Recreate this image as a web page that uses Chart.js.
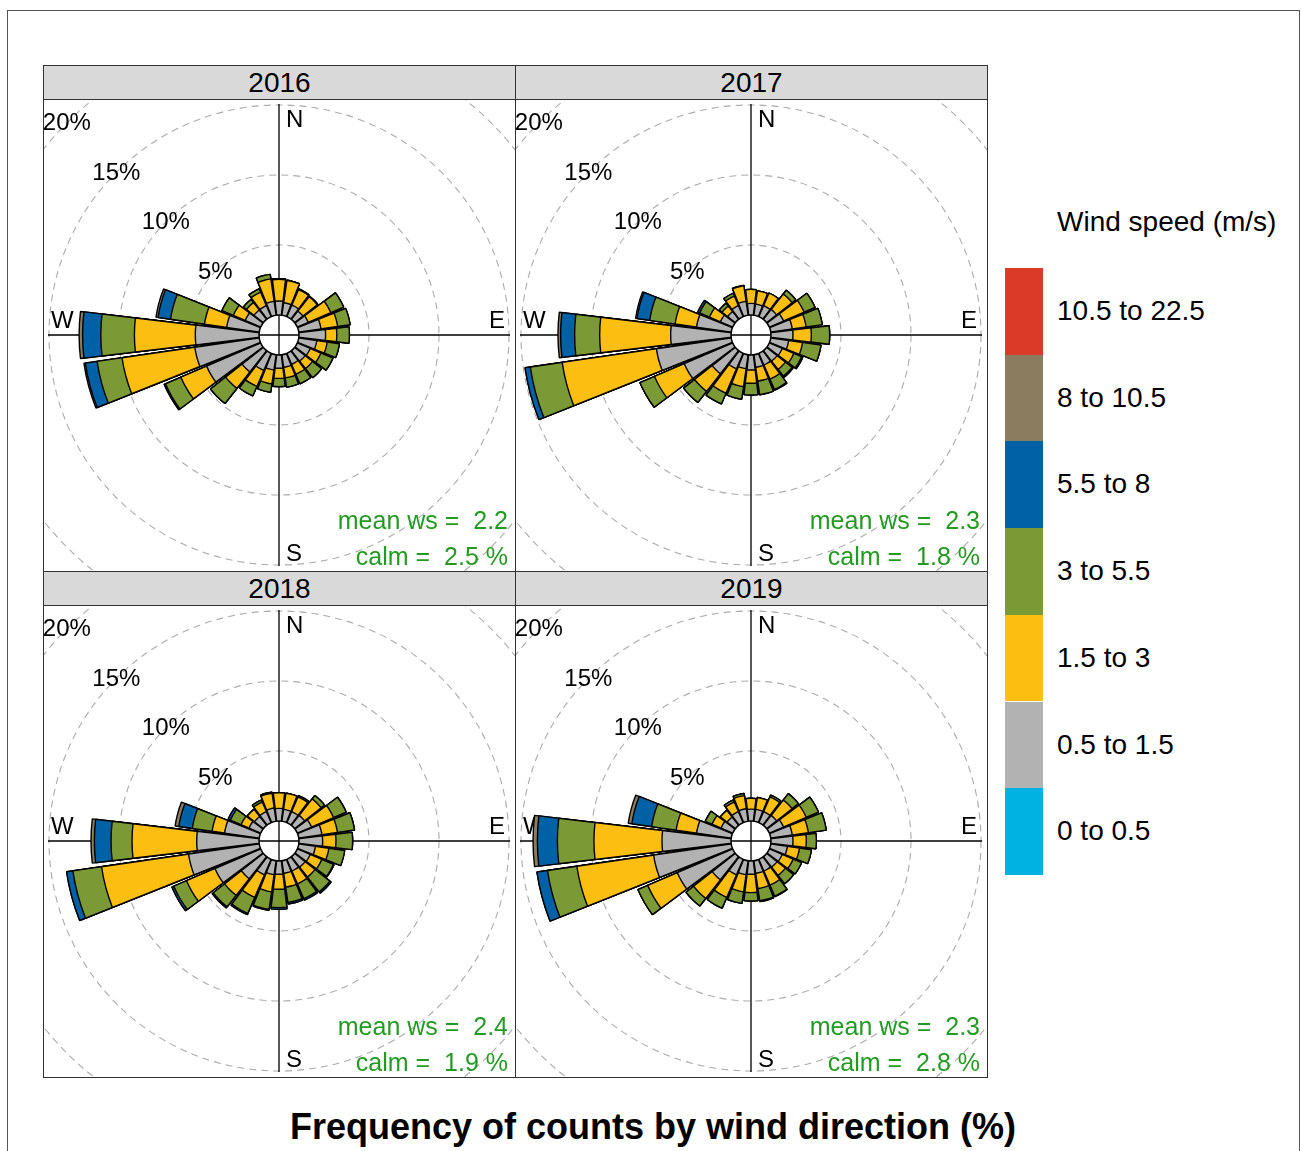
<!DOCTYPE html>
<html>
<head>
<meta charset="utf-8">
<title>Frequency of counts by wind direction</title>
<script src="https://cdn.jsdelivr.net/npm/chart.js@4.4.1/dist/chart.umd.min.js"></script>
<style>
  body { margin: 0; background: #fff; font-family: "Liberation Sans", Arial, sans-serif; }
  #page { position: relative; width: 1301px; height: 1151px; overflow: hidden; }
  .frame { position: absolute; left: 7px; top: 10px; width: 1293px; height: 1200px; border: 1px solid #555; box-sizing: border-box; }
  .strip { position: absolute; width: 473px; height: 35px; box-sizing: border-box; border: 1px solid #333;
           background: #d9d9d9; text-align: center; font-size: 28px; line-height: 33px; color: #000; }
  .panel { position: absolute; width: 473px; height: 473px; box-sizing: border-box; border: 1px solid #333; overflow: hidden; }
  .panel canvas { position: absolute; left: -115px; top: -115px; }
  .stats { position: absolute; right: 7px; top: 402px; color: #239b23; font-size: 25px; line-height: 36px;
           text-align: right; white-space: pre; }
  .legTitle { position: absolute; left: 1057px; top: 206px; font-size: 28px; line-height: 32px; }
  .legBox { position: absolute; left: 1005px; width: 38px; }
  .legLabel { position: absolute; left: 1057px; font-size: 28px; white-space: nowrap; }
  .title { position: absolute; left: 0; width: 1306px; top: 1107px; text-align: center; font-weight: bold;
           font-size: 36px; line-height: 40px; }
</style>
</head>
<body>
<div id="page">
  <div class="frame"></div>
  <div id="panels"></div>
  <div id="legend"></div>
  <div class="title">Frequency of counts by wind direction (%)</div>
</div>
<script>
const years = ['2016', '2017', '2018', '2019'];
const meanWs = [2.2, 2.3, 2.4, 2.3];
const calmPct = [2.5, 1.8, 1.9, 2.8];

// direction bins (degrees from north), 15 degree sectors
const directions = [0, 15, 30, 45, 60, 75, 90, 105, 120, 135, 150, 165,
                    180, 195, 210, 225, 240, 255, 270, 285, 300, 315, 330, 345];

const speedBins = ['0 to 0.5', '0.5 to 1.5', '1.5 to 3', '3 to 5.5', '5.5 to 8', '8 to 10.5', '10.5 to 22.5'];
const binColours = ['#00b2e2', '#b2b2b2', '#fdbe12', '#7b9a36', '#0061a7', '#8b7b5f', '#db3a28'];

const ringTicks = [5, 10, 15, 20];

// frequency (%) per direction for each wind speed band
const y2016_05_15 = [1.0, 0.9, 0.9, 0.75, 0.85, 1.6, 1.9, 1.3, 1.0, 0.95, 0.85, 0.9, 0.95, 1.1, 1.33, 1.93, 4.2, 4.65, 4.55, 2.35, 1.2, 0.85, 0.85, 1.0];
const y2016_15_3  = [1.55, 1.6, 1.2, 1.3, 1.75, 1.2, 0.8, 0.75, 0.83, 0.67, 0.77, 0.77, 0.72, 1.0, 1.24, 1.5, 2.0, 5.25, 4.35, 1.6, 0.92, 0.67, 1.05, 1.62];
const y2016_3_55  = [0.05, 0.02, 0.05, 0.05, 1.0, 0.9, 0.9, 0.88, 0.93, 0.83, 0.74, 0.66, 0.59, 0.6, 0.73, 1.37, 1.2, 1.8, 2.4, 2.45, 0.88, 0.28, 0.25, 0.33];
const y2016_55_8  = [0, 0, 0, 0, 0, 0, 0, 0, 0, 0, 0, 0, 0, 0, 0, 0, 0.1, 0.85, 1.3, 0.9, 0, 0, 0, 0];
const y2016_8_105 = [0, 0, 0, 0, 0, 0, 0, 0, 0, 0, 0, 0, 0, 0, 0, 0, 0, 0.1, 0.25, 0.15, 0, 0, 0, 0];

const y2017_05_15 = [0.83, 0.8, 0.85, 0.9, 1.1, 1.55, 1.57, 1.29, 1.0, 0.95, 0.9, 0.9, 1.07, 1.0, 1.2, 2.1, 3.76, 5.4, 4.31, 2.5, 0.95, 0.7, 0.85, 1.0];
const y2017_15_3  = [1.0, 0.96, 0.98, 1.4, 1.6, 1.0, 1.31, 1.0, 0.9, 0.75, 1.1, 1.0, 0.95, 1.3, 1.9, 1.6, 2.31, 6.8, 5.07, 1.55, 0.85, 0.5, 0.75, 1.12];
const y2017_3_55  = [0, 0, 0, 0.34, 0.85, 1.16, 1.31, 1.33, 0.6, 0.6, 0.8, 0.98, 0.84, 0.9, 0.83, 1.0, 1.13, 2.3, 1.79, 1.83, 0.76, 0.25, 0.21, 0.03];
const y2017_55_8  = [0, 0, 0, 0, 0, 0, 0, 0, 0.1, 0.1, 0.06, 0, 0, 0, 0, 0, 0, 0.38, 1.0, 0.92, 0.15, 0, 0, 0];
const y2017_8_105 = [0, 0, 0, 0, 0, 0, 0, 0, 0, 0, 0, 0, 0, 0, 0, 0, 0, 0, 0.19, 0.1, 0, 0, 0, 0];

const y2018_05_15 = [0.9, 0.85, 0.85, 0.9, 1.1, 1.67, 1.69, 1.2, 1.0, 0.95, 0.9, 0.9, 0.95, 1.0, 1.2, 2.0, 3.55, 5.1, 4.45, 2.5, 0.9, 0.8, 0.85, 0.95];
const y2018_15_3  = [1.12, 1.17, 1.15, 1.5, 1.71, 1.12, 0.95, 0.97, 0.9, 0.9, 1.0, 1.0, 1.07, 1.24, 1.75, 1.52, 2.21, 6.28, 4.62, 0.9, 0.62, 0.65, 0.75, 1.07];
const y2018_3_55  = [0, 0, 0.1, 0.31, 0.98, 1.23, 1.19, 1.14, 0.9, 1.35, 1.15, 1.1, 1.31, 1.26, 1.25, 1.03, 0.99, 2.07, 1.5, 1.43, 0.83, 0, 0.15, 0.08];
const y2018_55_8  = [0, 0, 0, 0, 0, 0, 0, 0, 0.05, 0.11, 0.12, 0.12, 0.12, 0.07, 0.1, 0.1, 0.15, 0.45, 1.19, 0.97, 0.17, 0, 0, 0];
const y2018_8_105 = [0, 0, 0, 0, 0, 0, 0, 0, 0, 0, 0, 0, 0, 0, 0, 0, 0, 0, 0.24, 0.27, 0, 0, 0, 0];

const y2019_05_15 = [0.85, 0.85, 0.85, 0.9, 1.1, 1.55, 1.57, 1.2, 1.0, 0.95, 0.9, 0.9, 0.95, 1.0, 1.2, 2.1, 4.3, 5.6, 4.93, 2.5, 0.9, 0.75, 0.85, 0.9];
const y2019_15_3  = [0.77, 0.86, 1.15, 1.4, 1.76, 1.16, 0.95, 0.87, 0.85, 0.75, 1.1, 1.1, 1.31, 1.24, 1.75, 1.69, 2.3, 5.54, 4.86, 1.47, 0.7, 0.61, 0.75, 0.95];
const y2019_3_55  = [0, 0, 0.14, 0.58, 0.95, 1.29, 0.72, 0.86, 0.65, 0.75, 0.85, 0.88, 0.6, 0.83, 0.84, 0.69, 0.76, 2.12, 2.61, 1.77, 0.52, 0, 0.16, 0.15];
const y2019_55_8  = [0, 0, 0, 0, 0, 0, 0, 0, 0, 0, 0.05, 0.07, 0, 0, 0, 0, 0, 0.76, 1.43, 1.43, 0, 0, 0, 0];
const y2019_8_105 = [0, 0, 0, 0, 0, 0, 0, 0, 0, 0, 0, 0, 0, 0, 0, 0, 0, 0, 0.31, 0.26, 0, 0, 0, 0];

// bands 0.5-1.5 .. 8-10.5 (index 1..5 of speedBins); the other two bands are empty
const yearBands = [
  [y2016_05_15, y2016_15_3, y2016_3_55, y2016_55_8, y2016_8_105],
  [y2017_05_15, y2017_15_3, y2017_3_55, y2017_55_8, y2017_8_105],
  [y2018_05_15, y2018_15_3, y2018_3_55, y2018_55_8, y2018_8_105],
  [y2019_05_15, y2019_15_3, y2019_3_55, y2019_55_8, y2019_8_105]
];

// geometry
const canvasSize = 700;
const pxPerPct = 14;
const holePx = 20;
const rMin = -holePx / pxPerPct;
const rMax = (canvasSize / 2 - holePx) / pxPerPct;
const wedgeDeg = 13.5;
const gapDeg = 15 - wedgeDeg;
const fontPanel = '24px "Liberation Sans", Arial, sans-serif';

const roseDecor = {
  id: 'roseDecor',
  beforeDatasetsDraw(chart) {
    const s = chart.scales.r, ctx = chart.ctx;
    const cx = s.xCenter, cy = s.yCenter;
    ctx.save();
    ctx.strokeStyle = '#000';
    ctx.lineWidth = 1.3;
    ctx.beginPath();
    ctx.moveTo(cx, cy - 231); ctx.lineTo(cx, cy + 231);
    ctx.moveTo(cx - 231, cy); ctx.lineTo(cx + 231, cy);
    ctx.stroke();

    ctx.fillStyle = '#000';
    ctx.font = fontPanel;
    ctx.textAlign = 'center';
    ctx.textBaseline = 'middle';
    ringTicks.forEach(v => {
      const d = s.getDistanceFromCenterForValue(v) * Math.SQRT1_2;
      ctx.fillText(v + '%', cx - d, cy - d + 1);
    });

    ctx.textBaseline = 'alphabetic';
    ctx.textAlign = 'left';
    ctx.fillText('N', cx + 7, cy - 208);
    ctx.fillText('S', cx + 7, cy + 226);
    ctx.fillText('W', cx - 228, cy - 7);
    ctx.textAlign = 'right';
    ctx.fillText('E', cx + 226, cy - 7);
    ctx.restore();
  },
  afterDatasetsDraw(chart) {
    const s = chart.scales.r, ctx = chart.ctx;
    const cx = s.xCenter, cy = s.yCenter;
    const r0 = s.getDistanceFromCenterForValue(0);
    ctx.save();
    ctx.beginPath();
    ctx.arc(cx, cy, r0, 0, Math.PI * 2);
    ctx.fillStyle = '#fff';
    ctx.fill();
    ctx.lineWidth = 1.5;
    ctx.strokeStyle = '#000';
    ctx.stroke();
    ctx.lineWidth = 1.3;
    ctx.beginPath();
    ctx.moveTo(cx, cy - r0); ctx.lineTo(cx, cy + r0);
    ctx.moveTo(cx - r0, cy); ctx.lineTo(cx + r0, cy);
    ctx.stroke();
    ctx.restore();
  }
};

// running totals so each band sits on top of the slower ones
function cumulative(bands) {
  let run = directions.map(() => 0);
  return bands.map(b => {
    run = run.map((v, k) => v + b[k]);
    return run;
  });
}

function buildRose(canvas, bands) {
  const labels = directions.flatMap(d => [d + '°', '']);
  const datasets = cumulative(bands).map((vals, j) => ({
    data: vals.flatMap(v => [v, rMin]),
    backgroundColor: c => c.dataIndex % 2 ? 'rgba(0,0,0,0)' : binColours[j + 1],
    borderColor: '#000',
    borderWidth: c => c.dataIndex % 2 ? 0 : 1.4,
    angle: c => c.dataIndex % 2 ? gapDeg : wedgeDeg
  }));

  new Chart(canvas.getContext('2d'), {
    type: 'polarArea',
    data: { labels: labels, datasets: datasets },
    options: {
      responsive: false,
      animation: false,
      events: [],
      layout: { padding: 0 },
      plugins: { legend: { display: false }, tooltip: { enabled: false } },
      scales: {
        r: {
          min: rMin,
          max: rMax,
          startAngle: -wedgeDeg / 2,
          angleLines: { display: false },
          pointLabels: { display: false },
          ticks: { display: false },
          grid: { circular: true, color: '#ababab', lineWidth: 1.1 },
          border: { dash: [7, 5] },
          afterBuildTicks: scale => { scale.ticks = ringTicks.map(v => ({ value: v })); }
        }
      }
    },
    plugins: [roseDecor]
  });
}

const panels = document.getElementById('panels');
years.forEach((year, i) => {
  const row = Math.floor(i / 2), col = i % 2;
  const left = 43 + col * 472;
  const top = 65 + row * 506;

  const strip = document.createElement('div');
  strip.className = 'strip';
  strip.style.left = left + 'px';
  strip.style.top = top + 'px';
  strip.textContent = year;
  panels.appendChild(strip);

  const panel = document.createElement('div');
  panel.className = 'panel';
  panel.style.left = left + 'px';
  panel.style.top = (top + 34) + 'px';
  const canvas = document.createElement('canvas');
  canvas.width = canvasSize;
  canvas.height = canvasSize;
  panel.appendChild(canvas);

  const stats = document.createElement('div');
  stats.className = 'stats';
  stats.textContent = 'mean ws =  ' + meanWs[i].toFixed(1) + '\ncalm =  ' + calmPct[i].toFixed(1) + ' %';
  panel.appendChild(stats);
  panels.appendChild(panel);

  buildRose(canvas, yearBands[i]);
});

// legend: fastest band on top
const legend = document.getElementById('legend');
const legTitle = document.createElement('div');
legTitle.className = 'legTitle';
legTitle.textContent = 'Wind speed (m/s)';
legend.appendChild(legTitle);
const legTop = 268, legH = 86.7;
speedBins.slice().reverse().forEach((label, k) => {
  const colour = binColours[speedBins.length - 1 - k];
  const box = document.createElement('div');
  box.className = 'legBox';
  box.style.top = (legTop + k * legH) + 'px';
  box.style.height = legH + 'px';
  box.style.background = colour;
  legend.appendChild(box);
  const txt = document.createElement('div');
  txt.className = 'legLabel';
  txt.style.top = (legTop + k * legH) + 'px';
  txt.style.lineHeight = legH + 'px';
  txt.textContent = label;
  legend.appendChild(txt);
});
</script>
</body>
</html>
